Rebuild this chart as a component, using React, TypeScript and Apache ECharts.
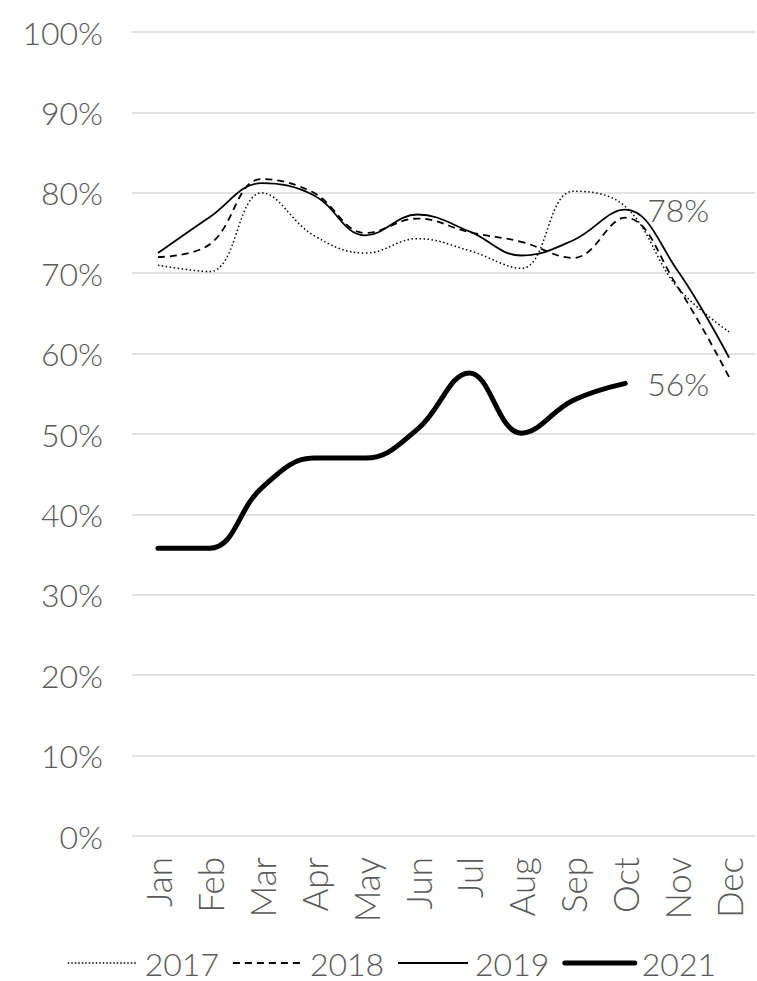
import React, { useEffect, useRef } from "react";
import * as echarts from "echarts";

const months = ["Jan", "Feb", "Mar", "Apr", "May", "Jun", "Jul", "Aug", "Sep", "Oct", "Nov", "Dec"];
const y2017 = [71.0, 70.2, 80.0, 74.7, 72.5, 74.3, 72.8, 70.6, 80.2, 78.3, 68.3, 62.7];
const y2018 = [72.0, 73.6, 81.7, 80.0, 75.0, 76.8, 75.1, 73.9, 71.9, 76.9, 68.4, 57.1];
const y2019 = [72.5, 77.0, 81.2, 79.7, 74.7, 77.3, 75.2, 72.2, 74.1, 77.9, 70.4, 59.5];
const y2021 = [35.8, 35.8, 43.3, 47.0, 47.0, 50.6, 57.6, 50.1, 54.2, 56.3];
const yTicks = [0, 10, 20, 30, 40, 50, 60, 70, 80, 90, 100];

const FONT = "Lato";
const WEIGHT = 300;
const GREY = "#595959";

export default function App() {
  const ref = useRef<HTMLDivElement>(null);
  useEffect(() => {
    if (!ref.current) return;
    const chart = echarts.init(ref.current, undefined, { renderer: "svg" });
    const endLabel = (arr: number[], idx: number) =>
      arr.map((v, i) =>
        i === idx
          ? {
              value: v,
              symbol: "circle",
              symbolSize: 2,
              itemStyle: { color: "rgba(0,0,0,0)" },
              label: {
                show: true,
                position: "right",
                distance: 21,
                formatter: (p: any) => Math.round(p.value) + "%",
                fontFamily: FONT,
                fontWeight: WEIGHT,
                fontSize: 32,
                color: GREY,
              },
            }
          : { value: v, symbol: "none" }
      );
    const legendItem = (name: string, ls: any) => ({
      name,
      itemStyle: { opacity: 0 },
      lineStyle: ls,
    });
    chart.setOption({
      animation: false,
      textStyle: { fontFamily: FONT },
      grid: { left: 132, right: 2, top: 32, bottom: 145, containLabel: false },
      legend: {
        top: 942,
        left: 62,
        itemWidth: 70,
        itemHeight: 14,
        itemGap: 13,
        textStyle: {
          fontFamily: FONT,
          fontWeight: WEIGHT,
          fontSize: 32,
          color: GREY,
          padding: [0, 0, 0, 2],
        },
        data: [
          legendItem("2017", { color: "#000", width: 1.5, type: [1.5, 2], opacity: 1 }),
          legendItem("2018", { color: "#000", width: 1.8, type: [7, 5], opacity: 1 }),
          legendItem("2019", { color: "#000", width: 1.8, type: "solid", opacity: 1 }),
          legendItem("2021", { color: "#000", width: 5, type: "solid", opacity: 1 }),
        ],
      },
      xAxis: {
        type: "category",
        data: months,
        boundaryGap: true,
        axisLine: { show: false },
        axisTick: { show: false },
        axisLabel: {
          rotate: 90,
          fontFamily: FONT,
          fontWeight: WEIGHT,
          fontSize: 35,
          color: GREY,
          margin: 21,
          interval: 0,
        },
      },
      yAxis: {
        type: "value",
        min: 0,
        max: 100,
        interval: 10,
        axisLine: { show: false },
        axisTick: { show: false },
        splitLine: { lineStyle: { color: "#d9d9d9", width: 1.5 } },
        axisLabel: {
          formatter: (v: number) => (yTicks.includes(v) ? v + "%" : ""),
          fontFamily: FONT,
          fontWeight: WEIGHT,
          fontSize: 32,
          color: GREY,
          margin: 29,
        },
      },
      series: [
        {
          name: "2017",
          type: "line",
          data: y2017,
          smooth: 0.4,
          symbol: "none",
          lineStyle: { color: "#000", width: 1.5, type: [1.5, 2.5] },
          itemStyle: { color: "#000" },
        },
        {
          name: "2018",
          type: "line",
          data: y2018,
          smooth: 0.4,
          symbol: "none",
          lineStyle: { color: "#000", width: 1.8, type: [7, 5] },
          itemStyle: { color: "#000" },
        },
        {
          name: "2019",
          type: "line",
          data: endLabel(y2019, 9),
          smooth: 0.4,
          symbol: "circle",
          symbolSize: 2,
          showSymbol: true,
          lineStyle: { color: "#000", width: 1.8 },
          itemStyle: { color: "#000" },
        },
        {
          name: "2021",
          type: "line",
          data: endLabel(y2021, 9),
          smooth: 0.4,
          symbol: "circle",
          symbolSize: 2,
          showSymbol: true,
          lineStyle: { color: "#000", width: 5, cap: "round" },
          itemStyle: { color: "#000" },
        },
      ],
    });
    return () => chart.dispose();
  }, []);
  return (
    <div
      ref={ref}
      style={{ position: "absolute", left: 0, top: 0, width: 757, height: 981 }}
    />
  );
}
